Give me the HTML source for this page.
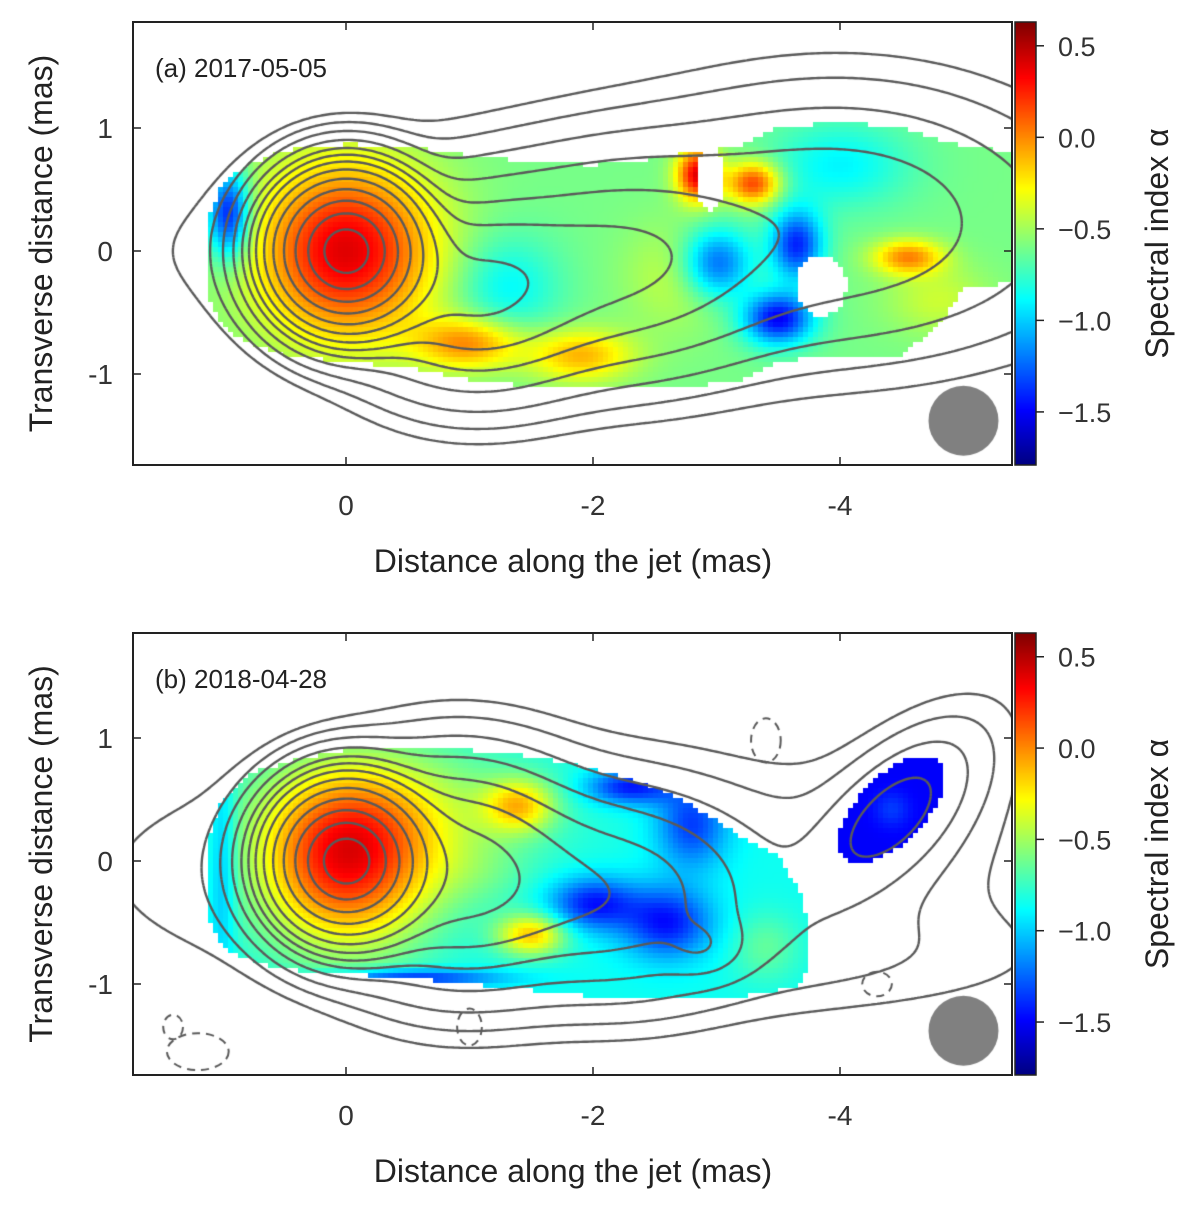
<!DOCTYPE html>
<html><head><meta charset="utf-8">
<style>
body{margin:0;background:#fff;width:1200px;height:1215px;overflow:hidden;position:relative;font-family:"Liberation Sans",sans-serif}
canvas,svg{position:absolute;left:0;top:0}
</style></head>
<body>
<canvas id="cv" width="1200" height="1215"></canvas>
<svg id="ov" width="1200" height="1215"></svg>
<script>
// ---- data ----
const xTicks=[0,-2,-4];
const yTicks=[1,0,-1];
const cbTicks=[0.5,0.0,-0.5,-1.0,-1.5];
const cbTickLabels=["0.5","0.0","\u22120.5","\u22121.0","\u22121.5"];
const panelLabels=["(a) 2017-05-05","(b) 2018-04-28"];
// alpha blobs: [x, y, sx, sy, amplitude]
const baseA=-0.6, baseB=-0.85;
const alphaBlobsA=[[0,0,0.5,0.5,1.0],[-1.0,-0.75,0.3,0.15,0.6],[-1.9,-0.85,0.3,0.15,0.5],[-1.3,-0.3,0.3,0.3,-0.3],[0.95,0.3,0.12,0.25,-0.9],[-2.85,0.62,0.12,0.15,1.0],[-3.3,0.55,0.15,0.12,0.8],[-3.0,-0.1,0.2,0.2,-0.7],[-3.5,-0.55,0.2,0.15,-0.9],[-3.65,0.05,0.15,0.2,-0.8],[-4.0,0.7,0.4,0.25,-0.3],[-4.55,-0.05,0.2,0.1,0.6],[-2.7,-0.2,0.3,0.3,0.2],[-4.8,-0.4,0.3,0.2,0.2]];
const alphaBlobsB=[[0,0,0.5,0.5,1.1],[-0.5,0.4,0.8,0.4,0.3],[-1.4,0.45,0.2,0.15,0.6],[-1.5,-0.6,0.2,0.12,0.7],[-1.1,-0.1,0.3,0.2,0.1],[-2.0,-0.35,0.25,0.15,-0.6],[-2.6,-0.5,0.25,0.2,-0.6],[-2.8,0.3,0.2,0.25,-0.5],[-2.3,0.6,0.25,0.1,-0.6],[-0.5,-0.95,0.5,0.05,-0.6],[1.0,0.0,0.08,0.6,-0.3],[-3.4,-0.7,0.2,0.2,0.2]];
// mask edges
const maskXA=[1.1,1.0,0.8,0.5,0,-0.5,-1.0,-1.5,-2.0,-2.5,-2.8,-3.2,-3.5,-4.0,-4.5,-4.8,-5.0,-5.5];
const maskUpA=[0.3,0.55,0.7,0.82,0.87,0.85,0.78,0.72,0.7,0.75,0.8,0.85,1.0,1.05,1.0,0.9,0.85,0.8];
const maskLoA=[-0.4,-0.6,-0.75,-0.85,-0.9,-0.95,-1.05,-1.1,-1.1,-1.1,-1.1,-1.05,-0.9,-0.85,-0.85,-0.6,-0.3,-0.25];
const holesA=[[-3.85,-0.28,0.2,0.25],[-2.95,0.58,0.12,0.25]];
const maskXB=[1.1,1.0,0.8,0.5,0,-0.5,-1,-1.5,-2,-2.5,-2.8,-3.2,-3.5,-3.7,-3.75];
const maskUpB=[0.2,0.5,0.7,0.8,0.9,0.92,0.9,0.85,0.75,0.6,0.45,0.2,0.05,-0.3,-0.6];
const maskLoB=[-0.5,-0.7,-0.8,-0.88,-0.92,-0.95,-1.0,-1.05,-1.1,-1.1,-1.1,-1.1,-1.05,-1.0,-0.8];
const islandB=[-4.42,0.42,0.55,0.27,-45,-1.5]; // x,y,a,b,angle,alpha
// intensity components: [x,y,sa,sb,angleDeg,amp]
const fluxA=[[0,0,0.3,0.3,0,1],[-1.0,-0.35,0.55,0.45,0,0.05],[-2.2,-0.1,0.7,0.5,0,0.03],[-4.0,0.3,1.0,0.6,0,0.015],[-2.5,0,2.5,0.6,0,0.005]];
const fluxB=[[0,0,0.3,0.3,0,1],[-0.9,-0.1,0.55,0.5,0,0.06],[-2.2,-0.3,0.6,0.45,0,0.025],[-2.9,-0.7,0.2,0.15,0,0.01],[-1.5,-0.1,2.0,0.6,0,0.006],[-4.45,0.4,0.5,0.25,-45,0.012],[-4.5,0.4,0.9,0.45,-45,0.002],[-4.0,-0.8,1.3,0.3,0,0.002]];
const levels=[0.85,0.6,0.4,0.25,0.15,0.09,0.055,0.035,0.022,0.012,0.006,0.003,0.0015];
const negContoursB=[[-3.4,0.98,0.12,0.18],[-1.0,-1.35,0.1,0.15],[1.4,-1.35,0.08,0.1],[1.2,-1.55,0.25,0.15],[-4.3,-1.0,0.12,0.1]];
// ---- geometry ----
const PL=133,PR=1012,panels=[{top:22,bot:465,y0:251},{top:633,bot:1075,y0:861}];
const SX=123.5,SY=123;
const px=x=>346-SX*x;
const ux=p=>(346-p)/SX;
function G(x,y,c){const a=c[4]*Math.PI/180,dx=x-c[0],dy=y-c[1];const u=dx*Math.cos(a)+dy*Math.sin(a),v=-dx*Math.sin(a)+dy*Math.cos(a);return c[5]*Math.exp(-(u*u)/(2*c[2]*c[2])-(v*v)/(2*c[3]*c[3]));}
function interp(xs,vs,x){if(x>xs[0]||x<xs[xs.length-1])return null;for(let i=0;i<xs.length-1;i++){if(x<=xs[i]&&x>=xs[i+1]){const t=(xs[i]-x)/(xs[i]-xs[i+1]);return vs[i]+t*(vs[i+1]-vs[i]);}}return null;}
function jet(a){const t=Math.max(0,Math.min(1,(a+1.79)/(2.42)));const c=v=>Math.round(255*Math.max(0,Math.min(1,v)));return [c(1.5-Math.abs(4*t-3)),c(1.5-Math.abs(4*t-2)),c(1.5-Math.abs(4*t-1))];}
const cv=document.getElementById('cv'),ctx=cv.getContext('2d');
function drawMap(pi){
 const P=panels[pi],py=y=>P.y0-SY*y,uy=p=>(P.y0-p)/SY;
 const blobs=pi?alphaBlobsB:alphaBlobsA,base=pi?baseB:baseA;
 const mx=pi?maskXB:maskXA,mu=pi?maskUpB:maskUpA,ml=pi?maskLoB:maskLoA;
 const st=5;
 for(let X=PL;X<PR;X+=st)for(let Y=P.top;Y<P.bot;Y+=st){
  const x=ux(X+st/2),y=uy(Y+st/2);let a=null;
  const u=interp(mx,mu,x),l=interp(mx,ml,x);
  if(u!==null&&y<=u&&y>=l){let ok=true;
   if(!pi)for(const h of holesA){const dx=(x-h[0])/h[2],dy=(y-h[1])/h[3];if(dx*dx+dy*dy<1)ok=false;}
   if(ok){a=base;for(const b of blobs){const dx=(x-b[0])/b[2],dy=(y-b[1])/b[3];a+=b[4]*Math.exp(-(dx*dx+dy*dy)/2);}}}
  if(pi){const I=islandB,r=I[4]*Math.PI/180,dx=x-I[0],dy=y-I[1];const uu=dx*Math.cos(r)+dy*Math.sin(r),vv=-dx*Math.sin(r)+dy*Math.cos(r);if((uu/I[2])**2+(vv/I[3])**2<1)a=I[5]+0.15*Math.exp(-(uu*uu+vv*vv)/0.02);}
  if(a!==null){const c=jet(a);ctx.fillStyle=`rgb(${c[0]},${c[1]},${c[2]})`;ctx.fillRect(X,Y,st,st);}
 }
 // contours
 const flux=pi?fluxB:fluxA,h=0.025,x0=-5.45,y0=-1.8,nx=Math.round(7.25/h),ny=Math.round(3.7/h);
 const F=[];for(let j=0;j<=ny;j++){F.push([]);for(let i=0;i<=nx;i++){let s=0;for(const c of flux)s+=G(x0+i*h,y0+j*h,c);F[j].push(s);}}
 ctx.save();ctx.beginPath();ctx.rect(PL,P.top,PR-PL,P.bot-P.top);ctx.clip();
 ctx.strokeStyle='#5a5a5a';ctx.lineWidth=2.4;ctx.beginPath();
 for(const L of levels){for(let j=0;j<ny;j++)for(let i=0;i<nx;i++){
  const v=[F[j][i],F[j][i+1],F[j+1][i+1],F[j+1][i]];const pts=[];
  const cs=[[0,1,0,0,1,0],[1,2,1,0,1,1],[3,2,0,1,1,1],[0,3,0,0,0,1]];
  for(const e of cs){const a=v[e[0]],b=v[e[1]];if((a-L)*(b-L)<0){const t=(L-a)/(b-a);pts.push([x0+(i+e[2]+t*(e[4]-e[2]))*h,y0+(j+e[3]+t*(e[5]-e[3]))*h]);}}
  if(pts.length>=2){ctx.moveTo(px(pts[0][0]),py(pts[0][1]));ctx.lineTo(px(pts[1][0]),py(pts[1][1]));if(pts.length==4){ctx.moveTo(px(pts[2][0]),py(pts[2][1]));ctx.lineTo(px(pts[3][0]),py(pts[3][1]));}}
 }}
 ctx.stroke();
 if(pi){ctx.setLineDash([8,6]);ctx.lineWidth=2;for(const n of negContoursB){ctx.beginPath();ctx.ellipse(px(n[0]),py(n[1]),n[2]*SX,n[3]*SY,0,0,Math.PI*2);ctx.stroke();}ctx.setLineDash([]);}
 ctx.restore();
 // beam
 ctx.fillStyle='#808080';ctx.beginPath();ctx.arc(px(-5),py(-1.38),35,0,Math.PI*2);ctx.fill();
 // colorbar
 for(let Y=P.top;Y<P.bot;Y++){const a=0.63-(Y-P.top)/(P.bot-P.top)*2.42;const c=jet(a);ctx.fillStyle=`rgb(${c[0]},${c[1]},${c[2]})`;ctx.fillRect(1015,Y,21,1);}
}
drawMap(0);drawMap(1);
// ---- overlay ----
const NS='http://www.w3.org/2000/svg',ov=document.getElementById('ov');
function el(t,at,txt){const e=document.createElementNS(NS,t);for(const k in at)e.setAttribute(k,at[k]);if(txt!==undefined)e.textContent=txt;ov.appendChild(e);return e;}
panels.forEach((P,pi)=>{
 const py=y=>P.y0-SY*y;
 const fr=el('rect',{x:PL,y:P.top,width:PR-PL,height:P.bot-P.top,fill:'none',stroke:'#222','stroke-width':2});
 
 
 const cb=el('rect',{x:1015,y:P.top,width:21,height:P.bot-P.top,fill:'none',stroke:'#222','stroke-width':1.5});
 
 
 xTicks.forEach(v=>{el('line',{x1:px(v),x2:px(v),y1:P.bot,y2:P.bot-8,stroke:'#222','stroke-width':1.5});el('line',{x1:px(v),x2:px(v),y1:P.top,y2:P.top+8,stroke:'#222','stroke-width':1.5});
  const t=el('text',{x:px(v),y:P.bot+50,'font-size':28,'text-anchor':'middle',fill:'#333'},String(v));
  
  });
 yTicks.forEach(v=>{el('line',{x1:PL,x2:PL+8,y1:py(v),y2:py(v),stroke:'#222','stroke-width':1.5});el('line',{x1:PR,x2:PR-8,y1:py(v),y2:py(v),stroke:'#222','stroke-width':1.5});
  const t=el('text',{x:113,y:py(v)+10,'font-size':28,'text-anchor':'end',fill:'#333'},String(v));
  
  });
 cbTicks.forEach((v,k)=>{const Y=P.top+(0.63-v)/2.42*(P.bot-P.top);el('line',{x1:1036,x2:1044,y1:Y,y2:Y,stroke:'#222','stroke-width':1.5});
  const t=el('text',{x:1058,y:Y+10,'font-size':27,fill:'#333'},cbTickLabels[k]);
  
  });
 const xt=el('text',{x:573,y:P.bot+107,'font-size':32,'text-anchor':'middle',fill:'#222'},'Distance along the jet (mas)');
 
 
 const cy=(P.top+P.bot)/2;
 const yt=el('text',{x:0,y:0,'font-size':32,'text-anchor':'middle',fill:'#222',transform:`translate(52,${cy}) rotate(-90)`},'Transverse distance (mas)');
 
 
 const ct=el('text',{x:0,y:0,'font-size':32,'text-anchor':'middle',fill:'#222',transform:`translate(1168,${cy}) rotate(-90)`},'Spectral index \u03b1');
 
 
 const pl=el('text',{x:155,y:P.top+55,'font-size':26,fill:'#222'},panelLabels[pi]);
 
 
});
</script>
</body></html>
